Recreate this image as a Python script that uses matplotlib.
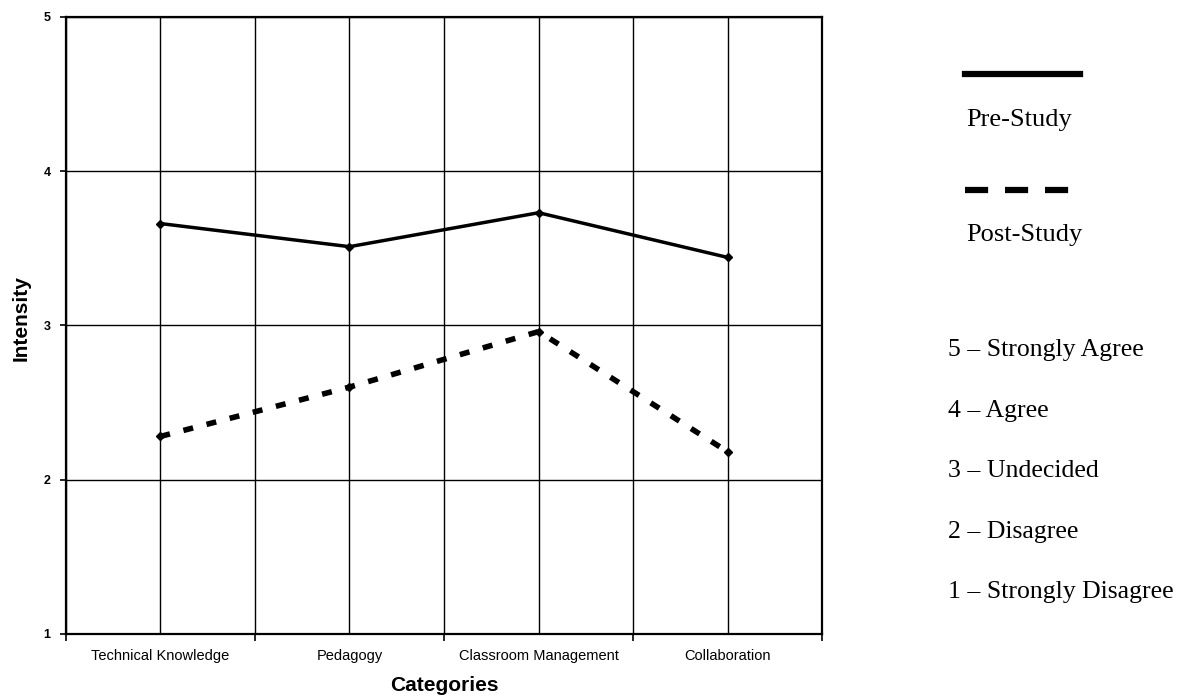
import numpy as np
import matplotlib
matplotlib.use("Agg")
import matplotlib.pyplot as plt
from matplotlib.lines import Line2D

categories = ["Technical Knowledge", "Pedagogy", "Classroom Management", "Collaboration"]
pre_study = [3.66, 3.51, 3.73, 3.44]
post_study = [2.28, 2.60, 2.96, 2.18]
y_ticks = [1, 2, 3, 4, 5]
scale_labels = ["5 \u2013 Strongly Agree", "4 \u2013 Agree", "3 \u2013 Undecided",
                "2 \u2013 Disagree", "1 \u2013 Strongly Disagree"]

plt.rcParams['font.family'] = ['Liberation Sans', 'DejaVu Sans']

fig = plt.figure(figsize=(11.88, 6.98), dpi=100)
ax = fig.add_axes([0.0553, 0.0917, 0.6370, 0.8843])

x = np.arange(len(categories))
ax.plot(x, pre_study, color='black', lw=2.5, solid_capstyle='butt',
        marker='D', markersize=4)
ax.plot(x, post_study, color='black', lw=4, linestyle=(0, (1.8, 2.5)),
        marker='D', markersize=4.5)

ax.set_xlim(-0.5, len(categories) - 0.5)
ax.set_ylim(1, 5)

# major ticks between categories, labels on minor ticks at the categories
ax.set_xticks(np.arange(-0.5, len(categories), 1.0))
ax.set_xticklabels([])
ax.set_xticks(x, minor=True)
ax.set_xticklabels(categories, minor=True, fontsize=10.5)
ax.tick_params(axis='x', which='major', direction='out', length=5, width=1.2)
ax.tick_params(axis='x', which='minor', length=0, pad=11)
ax.set_yticks(y_ticks)
ax.set_yticklabels([str(v) for v in y_ticks], fontsize=9, fontweight='bold')
ax.tick_params(axis='y', direction='out', length=4, width=1.2, pad=7)

ax.grid(True, which='both', axis='x', color='black', lw=1)
ax.grid(True, which='major', axis='y', color='black', lw=1)
ax.set_axisbelow(True)
for s in ax.spines.values():
    s.set_linewidth(1.6)

ax.set_xlabel("Categories", fontsize=15, fontweight='bold', labelpad=9)
ax.set_ylabel("Intensity", fontsize=15, fontweight='bold')
ax.yaxis.set_label_coords(-0.046, 0.512)

# legend drawn on the right side of the figure
serif = 'Liberation Serif'
fig.add_artist(Line2D([0.812, 0.909], [0.894, 0.894], color='black', lw=4.5,
                      transform=fig.transFigure))
fig.text(0.813, 0.828, "Pre-Study", family=serif, fontsize=19, va='center')
fig.add_artist(Line2D([0.812, 0.900], [0.728, 0.728], color='black', lw=4.5,
                      linestyle=(0, (3.7, 2.7)), transform=fig.transFigure))
fig.text(0.813, 0.664, "Post-Study", family=serif, fontsize=19, va='center')

for i, lab in enumerate(scale_labels):
    fig.text(0.798, 0.498 - i * 0.0865, lab, family=serif, fontsize=18.5, va='center')

fig.savefig("out.png", dpi=100)
